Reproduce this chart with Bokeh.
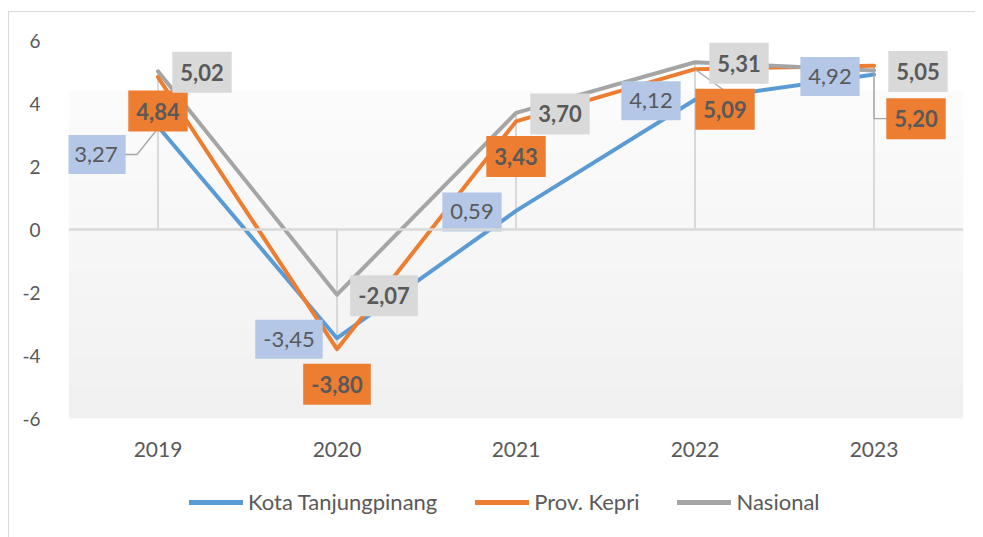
import numpy as np
from bokeh.plotting import figure
from bokeh.layouts import column
from bokeh.models import (Range1d, FactorRange, Legend, LegendItem, Span,
                          PrintfTickFormatter, InlineStyleSheet)
from bokeh.core.properties import value
from bokeh.embed import file_html
from bokeh.resources import INLINE

# ---- data ----
years = ["2019", "2020", "2021", "2022", "2023"]
kota = [3.27, -3.45, 0.59, 4.12, 4.92]
kepri = [4.84, -3.80, 3.43, 5.09, 5.20]
nasional = [5.02, -2.07, 3.70, 5.31, 5.05]
series_names = ["Kota Tanjungpinang", "Prov. Kepri", "Nasional"]
y_ticks = [-6, -4, -2, 0, 2, 4, 6]

# ---- styles ----
FONT = "Lato"
TXT = "#595959"
line_colors = ["#5B9BD5", "#ED7D31", "#A5A5A5"]
box_colors = ["#B4C7E7", "#ED7D31", "#D9D9D9"]
box_styles = ["normal", "bold", "bold"]
# label box offsets from the point in screen px (x right, y down)
label_dx = [[-62, -48, -44, -44, -44], [0, 0, 0, 30, 42], [44, 47, 44, 44, 44]]
label_dy = [[28, 1, 1, 1, 2], [34, 35, 35, 40, 53], [1, 1, 1, 1, 1]]

W = 975
H1, H2 = 470, 67
BL, BR, BT, BB = 68, 12, 40, 52

p = figure(x_range=FactorRange(*years, range_padding=0), y_range=Range1d(-6, 6),
           width=W, height=H1, output_backend="svg", toolbar_location=None,
           min_border_left=BL, min_border_right=BR, min_border_top=BT, min_border_bottom=BB)
p.outline_line_color = None
p.background_fill_color = "white"
p.border_fill_color = "white"
p.xgrid.visible = False
p.ygrid.visible = False

PX_X = (W - BL - BR) / 5.0      # px per category
PX_Y = (H1 - BT - BB) / 12.0    # px per unit

# gradient plot-area fill
n = 200
g = np.linspace(241, 252, n).astype(np.uint32)
img = np.zeros((n, 1), dtype=np.uint32)
view = img.view(dtype=np.uint8).reshape((n, 1, 4))
view[:, 0, 0] = g
view[:, 0, 1] = g
view[:, 0, 2] = g
view[:, 0, 3] = 255
top_val = 6 - 50 / PX_Y
p.image_rgba(image=[img], x=0, y=-6, dw=5, dh=top_val + 6, level="image")

# drop lines
for vals in (kota, kepri, nasional):
    p.segment(x0=years, y0=[0] * 5, x1=years, y1=vals, line_color="#D9D9D9", line_width=2)
# zero line
p.add_layout(Span(location=0, dimension="width", line_color="#D9D9D9", line_width=2.5))

# series lines
for vals, col in zip((kota, kepri, nasional), line_colors):
    p.line(x=years, y=vals, line_color=col, line_width=4, line_join="round", line_cap="round")

# leader lines (from point to moved labels)
lead_col = "#A6A6A6"
def lead(i, v, pts):
    xs = [i + 0.5 + dx / PX_X for dx, dy in pts]
    ys = [v - dy / PX_Y for dx, dy in pts]
    p.line(x=xs, y=ys, line_color=lead_col, line_width=1.3)

lead(0, kota[0], [(-1, 3), (-21, 28), (-33, 28)])
lead(3, kepri[3], [(0, 0), (29, 21)])
lead(4, kepri[4], [(0, 2), (0, 53), (13, 53)])

# data labels
for k, vals in enumerate((kota, kepri, nasional)):
    texts = [f"{v:.2f}".replace(".", ",") for v in vals]
    p.text(x=years, y=vals, text=texts, x_offset=label_dx[k], y_offset=label_dy[k],
           text_align="center", text_baseline="middle", text_font=value(FONT),
           text_font_size="22px", text_font_style=box_styles[k], text_color=TXT,
           background_fill_color=box_colors[k], padding=(8, 12))

# axes
p.yaxis.ticker = y_ticks
p.yaxis.formatter = PrintfTickFormatter(format="%d")
p.yaxis.axis_line_color = None
p.yaxis.major_tick_line_color = None
p.yaxis.minor_tick_line_color = None
p.yaxis.major_label_standoff = 22
p.yaxis.major_label_text_font = FONT
p.yaxis.major_label_text_font_size = "19px"
p.yaxis.major_label_text_color = TXT

p.xaxis.axis_line_color = None
p.xaxis.major_tick_line_color = None
p.xaxis.major_label_standoff = 17
p.xaxis.major_label_text_font = FONT
p.xaxis.major_label_text_font_size = "21px"
p.xaxis.major_label_text_color = TXT

# legend strip (separate small figure below; its frame aligns with the main frame)
p2 = figure(x_range=Range1d(0, 1), y_range=Range1d(0, 1), width=W, height=H2,
            output_backend="svg", toolbar_location=None,
            x_axis_location=None, y_axis_location=None,
            min_border_left=0, min_border_right=0, min_border_top=0, min_border_bottom=0)
p2.outline_line_color = None
p2.xgrid.visible = False
p2.ygrid.visible = False
leg_r = [p2.line(x=[5, 6], y=[5, 5], line_color=col, line_width=5, line_cap="round")
         for col in line_colors]
legend = Legend(items=[LegendItem(label=nm, renderers=[r]) for nm, r in zip(series_names, leg_r)],
                orientation="horizontal", location=(121, 22),
                label_text_font=FONT, label_text_font_size="22px", label_text_color=TXT,
                glyph_width=54, glyph_height=20, label_standoff=5, spacing=38,
                padding=0, margin=0, border_line_alpha=0, background_fill_alpha=0)
p2.add_layout(legend, "center")

css = InlineStyleSheet(css=""":host::after { content: ""; position: absolute; left: 8px; top: 11px;
  width: 2000px; height: 2000px; border-left: 1px solid #D9D9D9; border-top: 1px solid #D9D9D9;
  pointer-events: none; }
:host { overflow: hidden; }""")
layout = column(p, p2, spacing=0, stylesheets=[css])

open("out.html", "w").write(file_html(layout, INLINE))
